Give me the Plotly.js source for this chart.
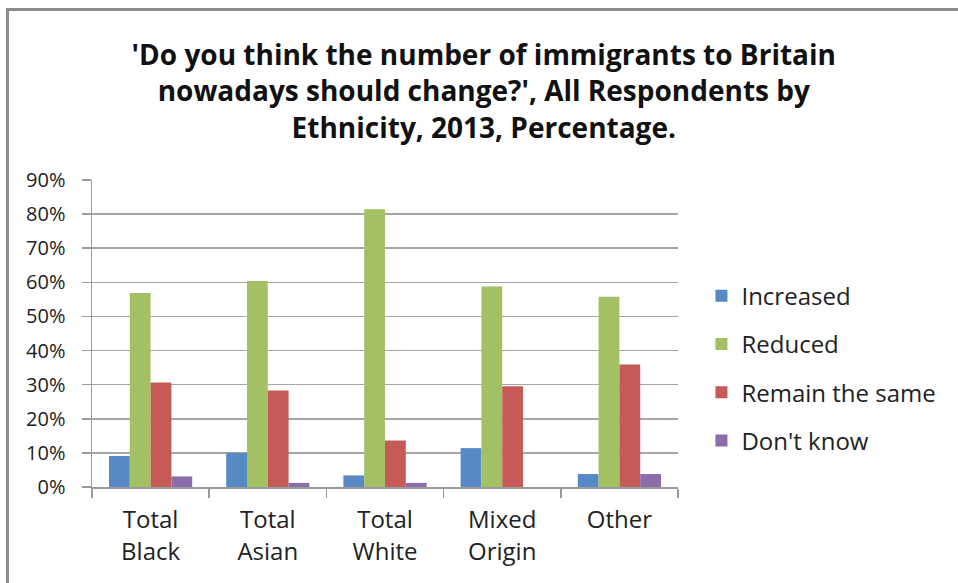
<!DOCTYPE html>
<html>
<head>
<meta charset="utf-8">
<script src="https://cdn.plot.ly/plotly-3.0.1.min.js"></script>
<style>
  html, body { margin: 0; padding: 0; background: #ffffff; }
  #chart { width: 958px; height: 583px; position: absolute; left: 0; top: 0; }
  #frame { position: absolute; left: 6px; top: 8px; width: 960px; height: 600px;
           border-left: 3px solid #8c8c8c; border-top: 3px solid #8c8c8c; pointer-events: none; }
</style>
</head>
<body>
<div id="chart"></div>
<div id="frame"></div>
<script>
const categories = ["Total<br>Black", "Total<br>Asian", "Total<br>White", "Mixed<br>Origin", "Other"];
const increased = [9.1, 10.0, 3.4, 11.4, 3.8];
const reduced = [56.9, 60.4, 81.4, 58.8, 55.8];
const remainSame = [30.6, 28.3, 13.6, 29.5, 35.9];
const dontKnow = [3.1, 1.2, 1.2, 0, 3.8];
const seriesNames = ["Increased", "Reduced", "Remain the same", "Don't know"];
const seriesColors = ["#578AC5", "#A3C163", "#C55A56", "#8A6DAA"];
const yTickVals = [0, 10, 20, 30, 40, 50, 60, 70, 80, 90];
const yTickText = ["0%", "10%", "20%", "30%", "40%", "50%", "60%", "70%", "80%", "90%"];

const seriesValues = [increased, reduced, remainSame, dontKnow];
const traces = seriesValues.map((vals, i) => ({
  type: "bar",
  name: seriesNames[i],
  x: categories,
  y: vals,
  legendgroup: "g" + i,
  marker: { color: seriesColors[i], line: { width: 0 } },
  hoverinfo: "x+y+name"
}));

const fontFam = "'Open Sans', Lato, sans-serif";
const layout = {
  width: 958, height: 583,
  paper_bgcolor: "#ffffff", plot_bgcolor: "#ffffff",
  margin: { l: 92, r: 280, t: 180, b: 96 },
  font: { family: fontFam, color: "#222222" },
  title: {
    text: "<b>'Do you think the number of immigrants to Britain<br>nowadays should change?', All Respondents by<br>Ethnicity, 2013, Percentage.</b>",
    font: { family: fontFam, size: 28, color: "#111111" },
    x: 0.505, xref: "container", xanchor: "center",
    y: 0.889, yref: "container", yanchor: "middle"
  },
  barmode: "group",
  bargap: 0.29,
  bargroupgap: 0,
  xaxis: {
    type: "category",
    showline: true, linecolor: "#9a9a9a", linewidth: 1.5,
    ticks: "outside", ticklen: 9, tickcolor: "#9a9a9a", tickwidth: 1.5,
    tickson: "boundaries",
    ticklabelstandoff: 11,
    showgrid: false,
    tickfont: { family: fontFam, size: 24, color: "#222222" }
  },
  yaxis: {
    range: [0, 90],
    tickvals: yTickVals, ticktext: yTickText,
    showline: true, linecolor: "#9a9a9a", linewidth: 1.5,
    ticks: "outside", ticklen: 9, tickcolor: "#9a9a9a", tickwidth: 1.5,
    ticklabelstandoff: 12,
    showgrid: true, gridcolor: "#a6a6a6", gridwidth: 1.5,
    zeroline: false,
    tickfont: { family: fontFam, size: 20, color: "#222222" }
  },
  legend: {
    x: 1.04, xanchor: "left", y: 0.387, yanchor: "middle",
    traceorder: "grouped", tracegroupgap: 14,
    font: { family: fontFam, size: 24, color: "#222222" },
    itemwidth: 30
  },
  showlegend: true
};

Plotly.newPlot("chart", traces, layout, { displayModeBar: false, staticPlot: true });
</script>
</body>
</html>
